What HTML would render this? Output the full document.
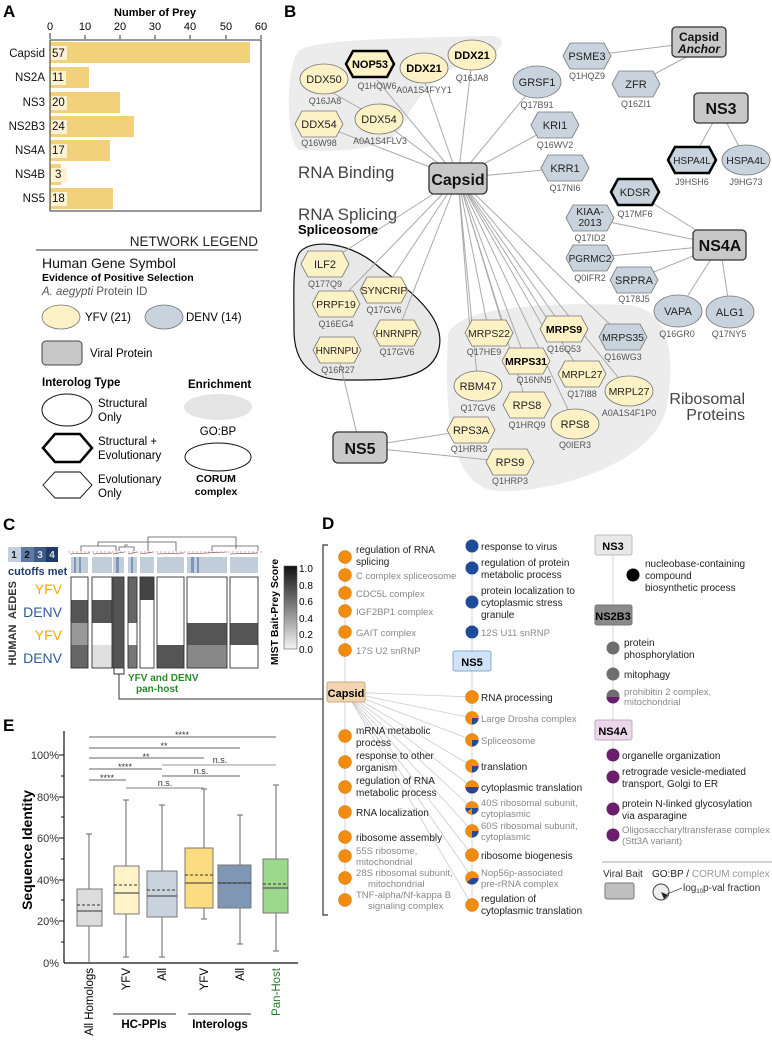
<!DOCTYPE html>
<html><head><meta charset="utf-8"><style>
html,body{margin:0;padding:0;background:#fff}
svg{display:block;font-family:"Liberation Sans",Arial,sans-serif}
.id{font-size:9px;fill:#555;text-anchor:middle}
.nl{font-size:11px;fill:#222;text-anchor:middle}
.nb{font-size:11px;font-weight:bold;fill:#000;text-anchor:middle}
.e{stroke:#aaa;stroke-width:1;fill:none}
.g{font-size:10px;fill:#222}
.gg{font-size:9.5px;fill:#888}
</style></head><body>
<svg width="772" height="1049" viewBox="0 0 772 1049" xmlns="http://www.w3.org/2000/svg">
<defs>
<polygon id="hx" points="-24,0 -17,-13 17,-13 24,0 17,13 -17,13"/>
</defs>

<!-- PANEL A -->
<text x="3" y="17" font-size="17" font-weight="bold">A</text>
<text x="155" y="16" font-size="11" font-weight="bold" text-anchor="middle">Number of Prey</text>
<g font-size="11" text-anchor="middle">
<text x="50" y="30">0</text><text x="85" y="30">10</text><text x="120" y="30">20</text><text x="155" y="30">30</text><text x="190" y="30">40</text><text x="226" y="30">50</text><text x="261" y="30">60</text>
</g>
<g stroke="#333" stroke-width="1"><line x1="50" y1="33" x2="50" y2="39"/><line x1="85" y1="35" x2="85" y2="39"/><line x1="120" y1="35" x2="120" y2="39"/><line x1="155" y1="35" x2="155" y2="39"/><line x1="190" y1="35" x2="190" y2="39"/><line x1="226" y1="35" x2="226" y2="39"/><line x1="261" y1="35" x2="261" y2="39"/></g>
<g fill="#f1d27a">
<rect x="50" y="42" width="200" height="21"/>
<rect x="50" y="67" width="39" height="21"/>
<rect x="50" y="92" width="70" height="21"/>
<rect x="50" y="116" width="84" height="21"/>
<rect x="50" y="140" width="60" height="21"/>
<rect x="50" y="164" width="11" height="21"/>
<rect x="50" y="188" width="63" height="21"/>
</g>
<g fill="#fdf3d4"><rect x="51" y="46" width="16" height="14"/><rect x="51" y="71" width="15" height="14"/><rect x="51" y="96" width="16" height="14"/><rect x="51" y="120" width="16" height="14"/><rect x="51" y="144" width="16" height="14"/><rect x="51" y="168" width="16" height="14"/><rect x="51" y="192" width="16" height="14"/></g>
<rect x="50" y="40" width="211" height="171" fill="none" stroke="#333" stroke-width="1"/>
<g font-size="11.5" fill="#111">
<text x="52" y="57">57</text><text x="52" y="81">11</text><text x="52" y="106">20</text><text x="52" y="130">24</text><text x="52" y="154">17</text><text x="55" y="178">3</text><text x="52" y="202">18</text>
</g>
<g font-size="11.5" text-anchor="end" fill="#111">
<text x="45" y="57">Capsid</text><text x="45" y="81">NS2A</text><text x="45" y="106">NS3</text><text x="45" y="130">NS2B3</text><text x="45" y="154">NS4A</text><text x="45" y="178">NS4B</text><text x="45" y="202">NS5</text>
</g>

<!-- Legend -->
<text x="258" y="246" font-size="13.5" text-anchor="end" fill="#222" font-weight="300">NETWORK LEGEND</text>
<line x1="36" y1="250" x2="258" y2="250" stroke="#333"/>
<text x="42" y="268" font-size="14" fill="#111">Human Gene Symbol</text>
<text x="42" y="281" font-size="10.5" font-weight="bold">Evidence of Positive Selection</text>
<text x="42" y="295" font-size="11.5" fill="#555"><tspan font-style="italic">A. aegypti</tspan> Protein ID</text>
<ellipse cx="61" cy="317" rx="19" ry="12" fill="#fdf1c6" stroke="#777" stroke-width="0.8"/>
<text x="85" y="321" font-size="11.5">YFV (21)</text>
<ellipse cx="164" cy="317" rx="19" ry="12" fill="#c9d3de" stroke="#777" stroke-width="0.8"/>
<text x="186" y="321" font-size="11.5">DENV (14)</text>
<rect x="42" y="341" width="40" height="24" rx="4" fill="#c8c8c8" stroke="#444"/>
<text x="90" y="357" font-size="11.5">Viral Protein</text>
<text x="42" y="386" font-size="11.5" font-weight="bold">Interolog Type</text>
<text x="188" y="388" font-size="11.5" font-weight="bold">Enrichment</text>
<ellipse cx="67" cy="410" rx="25" ry="16" fill="#fff" stroke="#111" stroke-width="1"/>
<text x="98" y="407" font-size="11.5">Structural</text><text x="98" y="421" font-size="11.5">Only</text>
<polygon points="43,448 55,434 80,434 92,448 80,462 55,462" fill="#fff" stroke="#000" stroke-width="2.5"/>
<text x="98" y="445" font-size="11.5">Structural +</text><text x="98" y="459" font-size="11.5">Evolutionary</text>
<polygon points="43,485 55,472 80,472 92,485 80,498 55,498" fill="#fff" stroke="#000" stroke-width="0.9"/>
<text x="98" y="483" font-size="11.5">Evolutionary</text><text x="98" y="497" font-size="11.5">Only</text>
<ellipse cx="218" cy="407" rx="34" ry="13" fill="#e4e4e4"/>
<text x="218" y="435" font-size="11.5" text-anchor="middle">GO:BP</text>
<ellipse cx="218" cy="457" rx="33" ry="14" fill="#fff" stroke="#111"/>
<text x="216" y="482" font-size="10.5" font-weight="bold" text-anchor="middle">CORUM</text>
<text x="216" y="495" font-size="10.5" font-weight="bold" text-anchor="middle">complex</text>

<!-- PANEL C -->
<text x="3" y="530" font-size="17" font-weight="bold">C</text>
<rect x="8" y="547" width="13" height="15" fill="#c5d0de"/><rect x="21" y="547" width="13" height="15" fill="#5e7ba5"/><rect x="34" y="547" width="12" height="15" fill="#3b5a8a"/><rect x="46" y="547" width="12" height="15" fill="#1f3a66"/>
<g font-size="10" font-weight="bold" text-anchor="middle"><text x="14" y="558" fill="#222">1</text><text x="27" y="558" fill="#111">2</text><text x="40" y="558" fill="#ddd">3</text><text x="52" y="558" fill="#ddd">4</text></g>
<text x="8" y="575" font-size="11" font-weight="bold" fill="#1f3a66">cutoffs met</text>
<g stroke="#555" stroke-width="0.8" fill="none">
<path d="M148,551 V537 H236 V549"/>
<path d="M81,551 V546 H116 V551"/><path d="M98,546 V542 H176 V551"/>
<path d="M119,551 V547 H134 V551"/><path d="M125,547 V545 H128"/>
<path d="M212,551 V546 H258 V551"/>
</g>
<g stroke="#333" stroke-width="0.6"><line x1="70" y1="554" x2="90" y2="553"/><line x1="93" y1="554" x2="112" y2="553"/><line x1="113" y1="554" x2="124" y2="552"/><line x1="128" y1="554" x2="138" y2="552"/><line x1="140" y1="554" x2="154" y2="552"/><line x1="157" y1="554" x2="184" y2="553"/><line x1="187" y1="554" x2="227" y2="552"/><line x1="230" y1="554" x2="258" y2="553"/></g>
<line x1="68" y1="552" x2="262" y2="552" stroke="#f08080" stroke-dasharray="2,2" stroke-width="0.8"/>
<g fill="#c2cdda">
<rect x="71" y="557" width="17" height="16"/><rect x="92" y="557" width="20" height="16"/><rect x="113" y="557" width="11" height="16"/><rect x="128" y="557" width="9" height="16"/><rect x="140" y="557" width="14" height="16"/><rect x="157" y="557" width="27" height="16"/><rect x="187" y="557" width="40" height="16"/><rect x="230" y="557" width="28" height="16"/>
</g>
<g fill="#7f97ba"><rect x="74" y="557" width="2" height="16"/><rect x="79" y="557" width="2" height="16"/><rect x="116" y="557" width="3" height="16"/><rect x="131" y="557" width="2" height="16"/><rect x="191" y="557" width="3" height="16"/><rect x="197" y="557" width="2" height="16"/></g>
<g>
<rect x="71" y="600" width="17" height="23" fill="#555"/><rect x="71" y="623" width="17" height="22" fill="#999"/><rect x="71" y="645" width="17" height="23" fill="#666"/>
<rect x="92" y="600" width="20" height="23" fill="#555"/><rect x="92" y="645" width="20" height="23" fill="#e0e0e0"/>
<rect x="113" y="577" width="11" height="91" fill="#555"/>
<rect x="128" y="577" width="9" height="46" fill="#666"/><rect x="128" y="645" width="9" height="23" fill="#777"/>
<rect x="140" y="577" width="14" height="23" fill="#444"/>
<rect x="157" y="645" width="27" height="23" fill="#555"/>
<rect x="187" y="623" width="40" height="22" fill="#555"/><rect x="187" y="645" width="40" height="23" fill="#888"/>
<rect x="230" y="623" width="28" height="22" fill="#555"/>
</g>
<g fill="none" stroke="#333" stroke-width="0.9">
<rect x="71" y="577" width="17" height="91"/><rect x="92" y="577" width="20" height="91"/><rect x="113" y="577" width="11" height="91"/><rect x="128" y="577" width="9" height="91"/><rect x="140" y="577" width="14" height="91"/><rect x="157" y="577" width="27" height="91"/><rect x="187" y="577" width="40" height="91"/><rect x="230" y="577" width="28" height="91"/>
</g>
<g font-size="14" text-anchor="end">
<text x="62" y="594" fill="#f2a900">YFV</text><text x="62" y="617" fill="#2f5a96">DENV</text><text x="62" y="640" fill="#f2a900">YFV</text><text x="62" y="663" fill="#2f5a96">DENV</text>
</g>
<text transform="translate(16,600) rotate(-90)" font-size="11" font-weight="bold" fill="#333" text-anchor="middle">AEDES</text>
<text transform="translate(16,645) rotate(-90)" font-size="11" font-weight="bold" fill="#333" text-anchor="middle">HUMAN</text>
<defs><linearGradient id="cb" x1="0" y1="0" x2="0" y2="1"><stop offset="0" stop-color="#111"/><stop offset="1" stop-color="#f4f4f4"/></linearGradient></defs>
<rect x="284" y="566" width="13" height="83" fill="url(#cb)" stroke="#555" stroke-width="0.6"/>
<g font-size="10"><text x="299" y="572">1.0</text><text x="299" y="589">0.8</text><text x="299" y="605">0.6</text><text x="299" y="622">0.4</text><text x="299" y="638">0.2</text><text x="299" y="653">0.0</text></g>
<text transform="translate(278,612) rotate(-90)" font-size="10.5" font-weight="bold" text-anchor="middle">MIST Bait-Prey Score</text>
<path d="M114,668 V674 H124 V668 M119,674 V699 H323" fill="none" stroke="#333"/>
<text x="128" y="681" font-size="10" font-weight="bold" fill="#2a8a2a">YFV and DENV</text>
<text x="136" y="692" font-size="10" font-weight="bold" fill="#2a8a2a">pan-host</text>

<!-- PANEL E -->
<text x="3" y="731" font-size="17" font-weight="bold">E</text>
<line x1="64" y1="731" x2="64" y2="963" stroke="#111" stroke-width="1.2"/>
<line x1="64" y1="963" x2="298" y2="963" stroke="#111" stroke-width="1.2"/>
<g stroke="#111"><line x1="59" y1="755" x2="64" y2="755"/><line x1="59" y1="797" x2="64" y2="797"/><line x1="59" y1="838" x2="64" y2="838"/><line x1="59" y1="880" x2="64" y2="880"/><line x1="59" y1="921" x2="64" y2="921"/><line x1="61" y1="776" x2="64" y2="776"/><line x1="61" y1="817" x2="64" y2="817"/><line x1="61" y1="859" x2="64" y2="859"/><line x1="61" y1="900" x2="64" y2="900"/><line x1="61" y1="942" x2="64" y2="942"/></g>
<g font-size="11" text-anchor="end" fill="#333"><text x="59" y="759">100%</text><text x="59" y="801">80%</text><text x="59" y="842">60%</text><text x="59" y="884">40%</text><text x="59" y="925">20%</text><text x="59" y="967">0%</text></g>
<text transform="translate(32,850) rotate(-90)" font-size="14" font-weight="bold" text-anchor="middle">Sequence Identity</text>
<g stroke="#666" stroke-width="1">
<line x1="89" y1="834" x2="89" y2="963"/><line x1="126" y1="800" x2="126" y2="957"/><line x1="162" y1="805" x2="162" y2="957"/><line x1="204" y1="789" x2="204" y2="919"/><line x1="240" y1="815" x2="240" y2="944"/><line x1="276" y1="785" x2="276" y2="951"/>
<line x1="86" y1="834" x2="92" y2="834"/><line x1="123" y1="800" x2="129" y2="800"/><line x1="123" y1="957" x2="129" y2="957"/><line x1="159" y1="805" x2="165" y2="805"/><line x1="159" y1="957" x2="165" y2="957"/><line x1="201" y1="789" x2="207" y2="789"/><line x1="201" y1="919" x2="207" y2="919"/><line x1="237" y1="815" x2="243" y2="815"/><line x1="237" y1="944" x2="243" y2="944"/><line x1="273" y1="785" x2="279" y2="785"/><line x1="273" y1="951" x2="279" y2="951"/>
</g>
<g stroke="#777" stroke-width="1">
<rect x="77" y="889" width="25" height="37" fill="#dcdcdc"/>
<rect x="114" y="866" width="25" height="48" fill="#fdf2c8"/>
<rect x="147" y="871" width="30" height="46" fill="#c9d3de"/>
<rect x="185" y="848" width="28" height="60" fill="#fcdc80"/>
<rect x="218" y="865" width="33" height="43" fill="#7f97b5"/>
<rect x="263" y="859" width="25" height="54" fill="#9cd98c"/>
</g>
<g stroke="#555" stroke-width="1.2"><line x1="77" y1="911" x2="102" y2="911"/><line x1="114" y1="893" x2="139" y2="893"/><line x1="147" y1="896" x2="177" y2="896"/><line x1="185" y1="883" x2="213" y2="883"/><line x1="218" y1="883" x2="251" y2="883"/><line x1="263" y1="888" x2="288" y2="888"/></g>
<g stroke="#333" stroke-dasharray="3,2"><line x1="77" y1="905" x2="102" y2="905"/><line x1="114" y1="885" x2="139" y2="885"/><line x1="147" y1="890" x2="177" y2="890"/><line x1="185" y1="875" x2="213" y2="875"/><line x1="218" y1="883" x2="251" y2="883"/><line x1="263" y1="884" x2="288" y2="884"/></g>
<g stroke="#666" stroke-width="0.9">
<line x1="89" y1="737" x2="276" y2="737"/><line x1="89" y1="748" x2="240" y2="748"/><line x1="89" y1="758" x2="204" y2="758"/><line x1="89" y1="769" x2="162" y2="769"/><line x1="162" y1="765" x2="276" y2="765" stroke="#999"/><line x1="162" y1="776" x2="240" y2="776"/><line x1="89" y1="780" x2="126" y2="780"/><line x1="126" y1="788" x2="204" y2="788" stroke="#aaa" stroke-width="1.5"/>
</g>
<g font-size="9" text-anchor="middle" fill="#333"><text x="182" y="738">****</text><text x="164" y="749">**</text><text x="146" y="760">**</text><text x="125" y="770">****</text><text x="220" y="763">n.s.</text><text x="201" y="774">n.s.</text><text x="107" y="781">****</text><text x="165" y="786">n.s.</text></g>
<g font-size="11.5" text-anchor="end">
<text transform="translate(93,968) rotate(-90)">All Homologs</text>
<text transform="translate(130,968) rotate(-90)">YFV</text>
<text transform="translate(166,968) rotate(-90)">All</text>
<text transform="translate(208,968) rotate(-90)">YFV</text>
<text transform="translate(244,968) rotate(-90)">All</text>
<text transform="translate(280,968) rotate(-90)" fill="#2a7a2a">Pan-Host</text>
</g>
<line x1="113" y1="1014" x2="176" y2="1014" stroke="#333"/><line x1="188" y1="1014" x2="251" y2="1014" stroke="#333"/>
<text x="144" y="1028" font-size="11.5" font-weight="bold" text-anchor="middle">HC-PPIs</text>
<text x="220" y="1028" font-size="11.5" font-weight="bold" text-anchor="middle">Interologs</text>

<!-- PANEL B -->
<text x="284" y="17" font-size="17" font-weight="bold">B</text>
<path d="M300,50 C320,38 420,38 490,36 C510,36 505,55 470,62 C440,70 420,90 400,130 C385,152 330,152 300,150 C285,148 285,60 300,50 Z" fill="#ececec"/>
<path d="M300,252 C312,238 352,242 380,268 C418,296 448,322 438,352 C428,382 382,380 345,380 C310,380 294,362 294,330 C294,290 292,262 300,252 Z" fill="#e8e8e8" stroke="#111" stroke-width="1.2"/>
<path d="M448,335 C455,305 560,302 628,305 C680,310 672,380 666,410 C652,462 560,492 500,491 C455,490 443,430 448,335 Z" fill="#ececec"/>
<text x="298" y="178" font-size="17" fill="#444" font-weight="300">RNA Binding</text>
<text x="298" y="220" font-size="17" fill="#444" font-weight="300">RNA Splicing</text>
<text x="298" y="234" font-size="13" font-weight="bold">Spliceosome</text>
<text x="745" y="404" font-size="16" fill="#444" text-anchor="end" font-weight="300">Ribosomal</text>
<text x="745" y="420" font-size="16" fill="#444" text-anchor="end" font-weight="300">Proteins</text>
<g class="e">
<path d="M458,178 L319,124 M458,178 L379,119 M458,178 L377,80 M458,178 L424,80 M458,178 L472,60 M324,88 L379,119 M458,178 L537,82 M458,178 L555,125 M458,178 L565,168 M458,178 L325,264 M458,178 L336,304 M458,178 L384,290 M458,178 L397,333 M458,178 L489,333 M458,178 L478,386 M458,178 L526,361 M458,178 L527,405 M458,178 L564,329 M458,178 L582,374 M458,178 L575,424 M458,178 L623,337 M458,178 L629,391 M458,178 L470,330 M458,178 L505,330 M458,178 L545,330"/>
<path d="M587,56 L699,42 M636,84 L690,55 M720,110 L692,160 M720,110 L746,160 M720,245 L635,192 M720,245 L590,218 M720,245 L590,258 M720,245 L634,280 M720,245 L678,311 M720,245 L730,312 M360,447 L337,350 M360,447 L471,430 M360,447 L510,462"/>
</g>
<g stroke="#333" stroke-width="1.3" fill="#c8c8c8">
<rect x="429" y="163" width="58" height="31" rx="5"/>
<rect x="672" y="27" width="54" height="30" rx="4"/>
<rect x="694" y="93" width="54" height="30" rx="4"/>
<rect x="693" y="230" width="53" height="30" rx="4"/>
<rect x="333" y="432" width="54" height="31" rx="5"/>
</g>
<g font-weight="bold" text-anchor="middle" fill="#111">
<text x="458" y="185" font-size="16">Capsid</text>
<text x="699" y="41" font-size="12">Capsid</text><text x="699" y="53" font-size="12" font-style="italic">Anchor</text>
<text x="721" y="114" font-size="16">NS3</text>
<text x="720" y="251" font-size="16">NS4A</text>
<text x="360" y="454" font-size="16">NS5</text>
</g>
<g fill="#fdf1c6" stroke="#777" stroke-width="0.8">
<ellipse cx="324" cy="79" rx="24" ry="15"/>
<ellipse cx="424" cy="68" rx="24" ry="15"/>
<ellipse cx="472" cy="55" rx="24" ry="15"/>
<ellipse cx="379" cy="119" rx="24" ry="15"/>
<use href="#hx" x="319" y="124"/>
<use href="#hx" x="325" y="264"/>
<use href="#hx" x="336" y="304"/>
<use href="#hx" x="384" y="290"/>
<use href="#hx" x="397" y="333"/>
<use href="#hx" x="337" y="350"/>
<use href="#hx" x="489" y="333"/>
<use href="#hx" x="564" y="329"/>
<use href="#hx" x="526" y="361"/>
<use href="#hx" x="582" y="374"/>
<ellipse cx="629" cy="391" rx="24" ry="15"/>
<ellipse cx="478" cy="386" rx="24" ry="15"/>
<use href="#hx" x="527" y="405"/>
<ellipse cx="575" cy="424" rx="24" ry="15"/>
<use href="#hx" x="471" y="430"/>
<use href="#hx" x="510" y="462"/>
</g>
<use href="#hx" x="370" y="64" fill="#fdf1c6" stroke="#000" stroke-width="2.5"/>
<g fill="#c9d3de" stroke="#777" stroke-width="0.8">
<ellipse cx="537" cy="82" rx="24" ry="16"/>
<use href="#hx" x="587" y="56"/>
<use href="#hx" x="636" y="84"/>
<use href="#hx" x="555" y="125"/>
<use href="#hx" x="565" y="168"/>
<ellipse cx="746" cy="160" rx="24" ry="15"/>
<use href="#hx" x="590" y="218"/>
<use href="#hx" x="590" y="258"/>
<use href="#hx" x="634" y="280"/>
<ellipse cx="678" cy="311" rx="24" ry="16"/>
<ellipse cx="730" cy="312" rx="24" ry="16"/>
<use href="#hx" x="623" y="337"/>
</g>
<use href="#hx" x="692" y="160" fill="#c9d3de" stroke="#000" stroke-width="2.5"/>
<use href="#hx" x="635" y="192" fill="#c9d3de" stroke="#000" stroke-width="2.5"/>
<g class="nl">
<text x="324" y="83">DDX50</text><text x="319" y="128">DDX54</text><text x="379" y="123">DDX54</text>
<text x="537" y="86">GRSF1</text><text x="587" y="60">PSME3</text><text x="636" y="88">ZFR</text><text x="555" y="129">KRI1</text><text x="565" y="172">KRR1</text>
<text x="692" y="164" font-size="10">HSPA4L</text><text x="746" y="164" font-size="10.5">HSPA4L</text><text x="635" y="196">KDSR</text>
<text x="590" y="215" font-size="10.5">KIAA-</text><text x="590" y="226" font-size="10.5">2013</text>
<text x="590" y="262" font-size="10">PGRMC2</text><text x="634" y="284">SRPRA</text><text x="678" y="315">VAPA</text><text x="730" y="316">ALG1</text>
<text x="325" y="268">ILF2</text><text x="336" y="308" font-size="10.5">PRPF19</text><text x="384" y="294" font-size="10.5">SYNCRIP</text><text x="397" y="337" font-size="10">HNRNPR</text><text x="337" y="354" font-size="10">HNRNPU</text>
<text x="489" y="337" font-size="10.5">MRPS22</text><text x="623" y="341" font-size="10.5">MRPS35</text><text x="582" y="378" font-size="10.5">MRPL27</text><text x="629" y="395" font-size="10.5">MRPL27</text>
<text x="478" y="390">RBM47</text><text x="527" y="409">RPS8</text><text x="575" y="428">RPS8</text><text x="471" y="434">RPS3A</text><text x="510" y="466">RPS9</text>
</g>
<g class="nb">
<text x="370" y="68">NOP53</text><text x="424" y="72">DDX21</text><text x="472" y="59">DDX21</text><text x="564" y="333" font-size="10.5">MRPS9</text><text x="526" y="365" font-size="10.5">MRPS31</text>
</g>
<g class="id">
<text x="325" y="104">Q16JA8</text><text x="377" y="89">Q1HQW6</text><text x="424" y="93">A0A1S4FYY1</text><text x="472" y="81">Q16JA8</text><text x="319" y="146">Q16W98</text><text x="380" y="144">A0A1S4FLV3</text>
<text x="537" y="108">Q17B91</text><text x="587" y="79">Q1HQZ9</text><text x="636" y="107">Q16ZI1</text><text x="555" y="148">Q16WV2</text><text x="565" y="191">Q17NI6</text>
<text x="692" y="185">J9HSH6</text><text x="746" y="185">J9HG73</text><text x="635" y="217">Q17MF6</text><text x="590" y="241">Q17ID2</text><text x="590" y="281">Q0IFR2</text><text x="634" y="302">Q178J5</text><text x="677" y="337">Q16GR0</text><text x="729" y="337">Q17NY5</text>
<text x="325" y="287">Q177Q9</text><text x="336" y="327">Q16EG4</text><text x="384" y="313">Q17GV6</text><text x="397" y="355">Q17GV6</text><text x="338" y="373">Q16R27</text>
<text x="484" y="355">Q17HE9</text><text x="564" y="352">Q16Q53</text><text x="623" y="360">Q16WG3</text><text x="534" y="383">Q16NN5</text><text x="582" y="397">Q17I88</text><text x="629" y="416">A0A1S4F1P0</text>
<text x="478" y="411">Q17GV6</text><text x="527" y="428">Q1HRQ9</text><text x="575" y="448">Q0IER3</text><text x="469" y="452">Q1HRR3</text><text x="510" y="484">Q1HRP3</text>
</g>

<!-- PANEL D -->
<text x="322" y="529" font-size="17" font-weight="bold">D</text>
<path d="M328,545 H323 V915 H328" fill="none" stroke="#333" stroke-width="1.2"/>
<g stroke="#ccc" stroke-width="0.8">
<line x1="345" y1="557" x2="345" y2="900"/><line x1="472" y1="546" x2="472" y2="905"/><line x1="613" y1="554" x2="613" y2="835"/>
<path d="M346,692 L472,697 M346,692 L472,718 M346,692 L472,740 M346,692 L472,766 M346,692 L472,787 M346,692 L472,808 M346,692 L472,831 M346,692 L472,855 M346,692 L472,878 M346,692 L472,905"/>
</g>
<rect x="327" y="682" width="38" height="20" rx="2" fill="#f2d5b0" stroke="#c8a880"/>
<text x="346" y="697" font-size="11" font-weight="bold" text-anchor="middle">Capsid</text>
<rect x="453" y="651" width="38" height="20" rx="2" fill="#cfe2f8" stroke="#8aa8cc"/>
<text x="472" y="666" font-size="11" font-weight="bold" text-anchor="middle">NS5</text>
<rect x="595" y="535" width="37" height="20" rx="2" fill="#e8e8e8" stroke="#bbb"/>
<text x="613" y="550" font-size="11" font-weight="bold" text-anchor="middle">NS3</text>
<rect x="595" y="605" width="37" height="20" rx="2" fill="#8a8a8a" stroke="#777"/>
<text x="613" y="620" font-size="11" font-weight="bold" text-anchor="middle">NS2B3</text>
<rect x="595" y="720" width="37" height="20" rx="2" fill="#ead8ea" stroke="#c0a8c0"/>
<text x="613" y="735" font-size="11" font-weight="bold" text-anchor="middle">NS4A</text>
<g fill="#f28c0f" stroke="#c87010" stroke-width="0.5">
<circle cx="345" cy="557" r="6.5"/><circle cx="345" cy="575" r="6.5"/><circle cx="345" cy="593" r="6.5"/><circle cx="345" cy="611" r="6.5"/><circle cx="345" cy="632" r="6.5"/><circle cx="345" cy="650" r="6.5"/>
<circle cx="345" cy="736" r="6.5"/><circle cx="345" cy="762" r="6.5"/><circle cx="345" cy="787" r="6.5"/><circle cx="345" cy="812" r="6.5"/><circle cx="345" cy="837" r="6.5"/><circle cx="345" cy="856" r="6.5"/><circle cx="345" cy="878" r="6.5"/><circle cx="345" cy="900" r="6.5"/>
<circle cx="472" cy="697" r="6.5"/><circle cx="472" cy="718" r="6.5"/><circle cx="472" cy="740" r="6.5"/><circle cx="472" cy="766" r="6.5"/><circle cx="472" cy="787" r="6.5"/><circle cx="472" cy="808" r="6.5"/><circle cx="472" cy="831" r="6.5"/><circle cx="472" cy="855" r="6.5"/><circle cx="472" cy="878" r="6.5"/><circle cx="472" cy="905" r="6.5"/>
</g>
<g fill="#1e4b9a">
<path d="M472,718 L478.5,718 A6.5,6.5 0 0 1 472,724.5 Z"/><path d="M472,740 L478.5,740 A6.5,6.5 0 0 1 472,746.5 Z"/><path d="M472,766 L478.5,766 A6.5,6.5 0 0 1 472,772.5 Z"/><path d="M465.5,787 L478.5,787 A6.5,6.5 0 0 1 465.5,787 Z"/><path d="M478.5,808 A6.5,6.5 0 0 1 467,812 L472,808 Z M465.5,808 A6.5,6.5 0 0 0 472,814.5 L472,808 Z"/><path d="M472,831 L478.5,831 A6.5,6.5 0 0 1 472,837.5 Z"/><path d="M472,878 L478.5,878 A6.5,6.5 0 0 1 467,882 Z"/>
<circle cx="472" cy="546" r="6.5"/><circle cx="472" cy="568" r="6.5"/><circle cx="472" cy="602" r="6.5"/><circle cx="472" cy="632" r="6.5"/>
</g>
<circle cx="633" cy="575" r="6.5" fill="#000"/>
<g fill="#6e6e6e"><circle cx="613" cy="648" r="6.5"/><circle cx="613" cy="674" r="6.5"/><circle cx="613" cy="696" r="6.5"/></g>
<path d="M606.5,697 A6.5,6.5 0 0 0 619.5,697 Z" fill="#6a1f6e"/>
<g fill="#6a1f6e"><circle cx="613" cy="755" r="6.5"/><circle cx="613" cy="777" r="6.5"/><circle cx="613" cy="809" r="6.5"/><circle cx="613" cy="835" r="6.5"/></g>
<g class="g" font-size="10.5">
<text x="356" y="553">regulation of RNA</text><text x="356" y="565">splicing</text>
<text x="356" y="734">mRNA metabolic</text><text x="356" y="746">process</text>
<text x="356" y="759">response to other</text><text x="356" y="771">organism</text>
<text x="356" y="784">regulation of RNA</text><text x="356" y="796">metabolic process</text>
<text x="356" y="816">RNA localization</text><text x="356" y="841">ribosome assembly</text>
</g>
<g class="gg">
<text x="356" y="579">C complex spliceosome</text><text x="356" y="597">CDC5L complex</text><text x="356" y="615">IGF2BP1 complex</text><text x="356" y="636">GAIT complex</text><text x="356" y="654">17S U2 snRNP</text>
<text x="356" y="854">55S ribosome,</text><text x="356" y="865">mitochondrial</text>
<text x="356" y="876">28S ribosomal subunit,</text><text x="368" y="887">mitochondrial</text>
<text x="356" y="898">TNF-alpha/Nf-kappa B</text><text x="368" y="909">signaling complex</text>
</g>
<g class="g" font-size="10.5">
<text x="481" y="550">response to virus</text>
<text x="481" y="566">regulation of protein</text><text x="481" y="578">metabolic process</text>
<text x="481" y="594">protein localization to</text><text x="481" y="606">cytoplasmic stress</text><text x="481" y="618">granule</text>
<text x="481" y="701">RNA processing</text><text x="481" y="770">translation</text><text x="481" y="791">cytoplasmic translation</text><text x="481" y="859">ribosome biogenesis</text>
<text x="481" y="902">regulation of</text><text x="481" y="914">cytoplasmic translation</text>
</g>
<g class="gg">
<text x="481" y="636">12S U11 snRNP</text><text x="481" y="722">Large Drosha complex</text><text x="481" y="744">Spliceosome</text>
<text x="481" y="806">40S ribosomal subunit,</text><text x="481" y="817">cytoplasmic</text>
<text x="481" y="829">60S ribosomal subunit,</text><text x="481" y="840">cytoplasmic</text>
<text x="481" y="876">Nop56p-associated</text><text x="481" y="887">pre-rRNA complex</text>
</g>
<g class="g" font-size="10.5">
<text x="645" y="567">nucleobase-containing</text><text x="645" y="579">compound</text><text x="645" y="591">biosynthetic process</text>
<text x="624" y="646">protein</text><text x="624" y="658">phosphorylation</text><text x="624" y="678">mitophagy</text>
<text x="622" y="759">organelle organization</text>
<text x="622" y="775">retrograde vesicle-mediated</text><text x="622" y="787">transport, Golgi to ER</text>
<text x="622" y="807">protein N-linked glycosylation</text><text x="622" y="819">via asparagine</text>
</g>
<g class="gg">
<text x="624" y="695">prohibitin 2 complex,</text><text x="624" y="705">mitochondrial</text>
<text x="622" y="833">Oligosaccharyltransferase complex</text><text x="622" y="844">(Stt3A variant)</text>
</g>
<line x1="602" y1="862" x2="772" y2="862" stroke="#aaa"/>
<text x="603" y="877" font-size="10" fill="#333">Viral Bait</text>
<rect x="605" y="883" width="29" height="16" rx="2" fill="#c0c0c0" stroke="#777"/>
<text x="652" y="877" font-size="10" fill="#222">GO:BP / <tspan fill="#999">CORUM complex</tspan></text>
<circle cx="661" cy="892" r="8" fill="#eee" stroke="#444"/>
<path d="M661,892 L668,895 L664,899 Z" fill="#222"/>
<line x1="667" y1="894" x2="682" y2="888" stroke="#444" stroke-width="0.7"/>
<text x="683" y="891" font-size="10" fill="#333">log<tspan font-size="6" dy="2">10</tspan><tspan dy="-2">p-val fraction</tspan></text>
</svg>
</body></html>
